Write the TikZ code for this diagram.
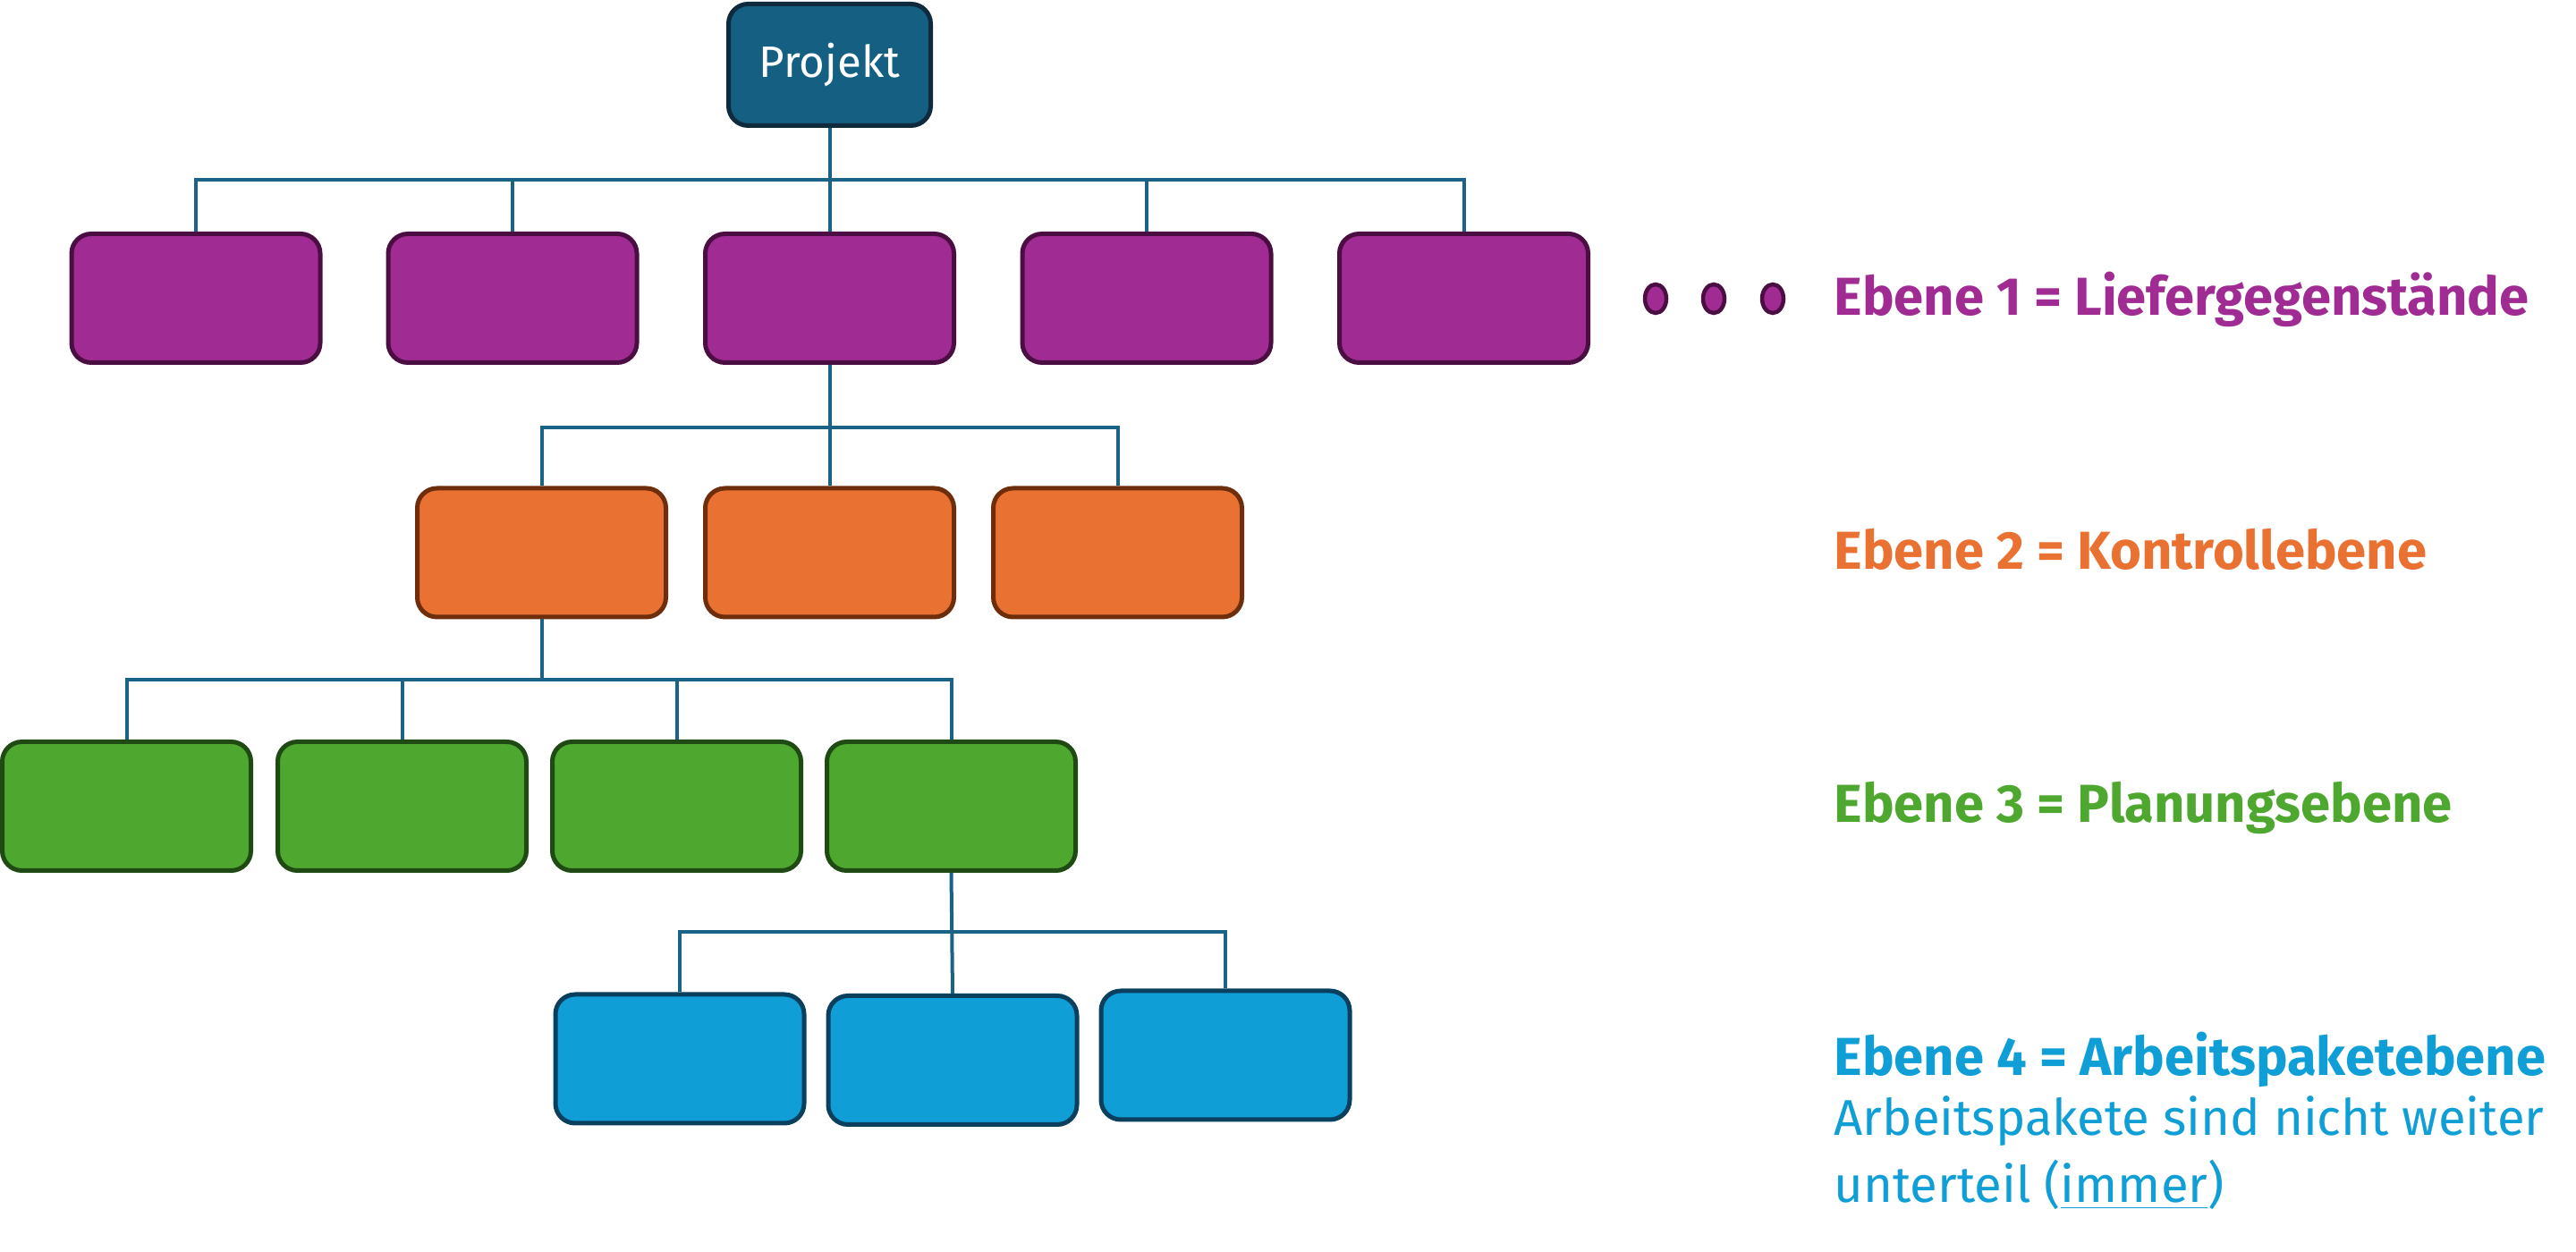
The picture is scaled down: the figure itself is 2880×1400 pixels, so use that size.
\documentclass[tikz,border=0pt]{standalone}
\usepackage{fontspec}
\setmainfont{Fira Sans}
\usetikzlibrary{shapes.geometric}
\definecolor{projF}{HTML}{156082}
\definecolor{projB}{HTML}{0E2A3C}
\definecolor{purF}{HTML}{A02B93}
\definecolor{purB}{HTML}{4A0E42}
\definecolor{orF}{HTML}{E97132}
\definecolor{orB}{HTML}{6E2E0C}
\definecolor{grF}{HTML}{4EA72E}
\definecolor{grB}{HTML}{1F4A14}
\definecolor{blF}{HTML}{0F9ED5}
\definecolor{blB}{HTML}{0B3F5E}
\definecolor{conn}{HTML}{1A6387}
\begin{document}
\begin{tikzpicture}[x=0.1mm,y=-0.1mm,
  wbox/.style={rectangle,rounded corners=2.2mm,line width=0.5mm,minimum width=27.8mm,minimum height=14.4mm,inner sep=0pt},
  purbox/.style={wbox,fill=purF,draw=purB},
  orbox/.style={wbox,fill=orF,draw=orB},
  grbox/.style={wbox,fill=grF,draw=grB},
  blbox/.style={wbox,fill=blF,draw=blB},
  link/.style={draw=conn,line width=0.4mm},
  dot/.style={ellipse,fill=purF,draw=purB,line width=0.45mm,minimum width=2.4mm,minimum height=3.2mm,inner sep=0pt},
  lbl/.style={anchor=base west,inner sep=0pt,font=\fontsize{17}{20}\selectfont\bfseries},
  txt/.style={anchor=base west,inner sep=0pt,font=\fontsize{16}{19}\selectfont}
]
\useasboundingbox (0,0) rectangle (2880,1400);
% Projekt
\node[rectangle,rounded corners=2.2mm,line width=0.5mm,fill=projF,draw=projB,minimum width=22.6mm,minimum height=13.6mm,text=white,font=\fontsize{14}{17}\selectfont] (P) at (927.5,72.5) {Projekt};
% level 1
\node[purbox] (a1) at (219,333.5) {};
\node[purbox] (a2) at (573,333.5) {};
\node[purbox] (a3) at (927.5,333.5) {};
\node[purbox] (a4) at (1282,333.5) {};
\node[purbox] (a5) at (1636.5,333.5) {};
% level 2
\node[orbox] (b1) at (605.5,618) {};
\node[orbox] (b2) at (927.5,618) {};
\node[orbox] (b3) at (1249.5,618) {};
% level 3
\node[grbox] (c1) at (141.5,901.5) {};
\node[grbox] (c2) at (449.5,901.5) {};
\node[grbox] (c3) at (756.5,901.5) {};
\node[grbox] (c4) at (1063.5,901.5) {};
% level 4
\node[blbox] (d1) at (760,1184) {};
\node[blbox] (d2) at (1065,1185.5) {};
\node[blbox] (d3) at (1370,1180) {};
% bus coordinates
\coordinate (y1) at (0,201);
\coordinate (y2) at (0,478);
\coordinate (y3) at (0,760);
\coordinate (y4) at (0,1042);
% connectors level 1
\draw[link] (P.south) -- (P.south|-y1);
\draw[link] (a1.north) -- (a1.north|-y1) -- (a5.north|-y1) -- (a5.north);
\draw[link] (a2.north) -- (a2.north|-y1);
\draw[link] (a3.north) -- (a3.north|-y1);
\draw[link] (a4.north) -- (a4.north|-y1);
% connectors level 2
\draw[link] (a3.south) -- (b2.north);
\draw[link] (b1.north) -- (b1.north|-y2) -- (b3.north|-y2) -- (b3.north);
% connectors level 3
\draw[link] (b1.south) -- (b1.south|-y3);
\draw[link] (c1.north) -- (c1.north|-y3) -- (c4.north|-y3) -- (c4.north);
\draw[link] (c2.north) -- (c2.north|-y3);
\draw[link] (c3.north) -- (c3.north|-y3);
% connectors level 4
\draw[link] (c4.south) -- (d2.north);
\draw[link] (d1.north) -- (d1.north|-y4) -- (d3.north|-y4) -- (d3.north);
% dots
\node[dot] (e1) at (1851,334) {};
\node[dot] (e2) at (1916,334) {};
\node[dot] (e3) at (1982,334) {};
% labels
\node[lbl,text=purF] (t1) at (2050,353) {Ebene 1 = Liefergegenstände};
\node[lbl,text=orF] (t2) at (2050,637) {Ebene 2 = Kontrollebene};
\node[lbl,text=grF] (t3) at (2050,920) {Ebene 3 = Planungsebene};
\node[lbl,text=blF] (t4) at (2050,1203) {Ebene 4 = Arbeitspaketebene};
\node[txt,text=blF] (t5) at (2050,1270) {Arbeitspakete sind nicht weiter};
\node[txt,text=blF] (t6) at (2050,1345) {unterteil (\underline{immer})};
\end{tikzpicture}
\end{document}
